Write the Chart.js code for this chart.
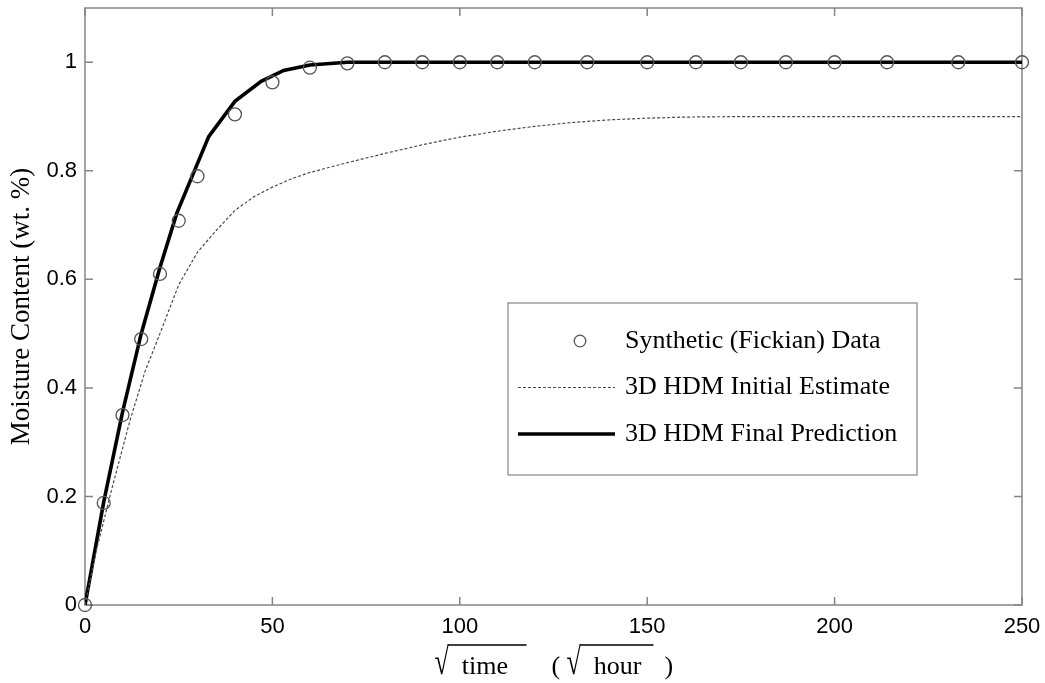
<!DOCTYPE html>
<html>
<head>
<meta charset="utf-8">
<script src="https://cdn.jsdelivr.net/npm/chart.js@4.4.1/dist/chart.umd.min.js"></script>
<style>
  html, body { margin: 0; padding: 0; background: #fff; }
  canvas { display: block; }
</style>
</head>
<body>
<canvas id="moistureChart" width="1045" height="683"></canvas>
<script>
// synthetic (Fickian) uptake points, x is sqrt(time)
const dataX = [0, 5, 10, 15, 20, 25, 30, 40, 50, 60, 70, 80, 90, 100, 110, 120, 134, 150, 163, 175, 187, 200, 214, 233, 250];
const dataY = [0, 0.188, 0.35, 0.49, 0.61, 0.708, 0.79, 0.904, 0.963, 0.99, 0.998, 1, 1, 1, 1, 1, 1, 1, 1, 1, 1, 1, 1, 1, 1];

// HDM initial estimate
const initX = [0, 3, 7, 12, 16, 20, 25, 30, 35, 40, 45, 50, 55, 60, 70, 80, 90, 100, 110, 120, 130, 140, 150, 160, 175, 200, 250];
const initY = [0, 0.1, 0.21, 0.34, 0.43, 0.5, 0.59, 0.65, 0.69, 0.727, 0.752, 0.77, 0.785, 0.797, 0.815, 0.832, 0.848, 0.862, 0.873, 0.882, 0.889, 0.894, 0.897, 0.899, 0.9, 0.9, 0.9];

// HDM final prediction
const finalX = [0, 5, 10, 15, 20, 24.5, 33, 40, 47, 53, 60, 70, 80, 250];
const finalY = [0, 0.19, 0.355, 0.5, 0.622, 0.722, 0.863, 0.928, 0.965, 0.985, 0.995, 1, 1, 1];

const xTicks = [0, 50, 100, 150, 200, 250];
const yTicks = [0, 0.2, 0.4, 0.6, 0.8, 1];
const seriesNames = ['Synthetic (Fickian) Data', '3D HDM Initial Estimate', '3D HDM Final Prediction'];
const yTitle = 'Moisture Content (wt. %)';

const toPoints = (xs, ys) => xs.map((v, i) => ({ x: v, y: ys[i] }));

const AXIS_GREY = '#858585';
const SERIF = '"Liberation Serif", "Times New Roman", serif';

// box around the axes with inward ticks on all four sides
const frame = {
    id: 'frame',
    beforeDatasetsDraw(chart) {
        const { ctx, chartArea: a, scales: { x, y } } = chart;
        const tl = 8;
        ctx.save();
        ctx.strokeStyle = AXIS_GREY;
        ctx.lineWidth = 1.5;
        ctx.strokeRect(a.left, a.top, a.right - a.left, a.bottom - a.top);
        ctx.beginPath();
        xTicks.forEach(v => {
            const px = x.getPixelForValue(v);
            ctx.moveTo(px, a.bottom); ctx.lineTo(px, a.bottom - tl);
            ctx.moveTo(px, a.top); ctx.lineTo(px, a.top + tl);
        });
        yTicks.forEach(v => {
            const py = y.getPixelForValue(v);
            ctx.moveTo(a.left, py); ctx.lineTo(a.left + tl, py);
            ctx.moveTo(a.right, py); ctx.lineTo(a.right - tl, py);
        });
        ctx.stroke();
        ctx.restore();
    }
};

// radical sign stretched up to meet the bar drawn over its argument
function drawRoot(ctx, x, base, word, barEnd) {
    ctx.save();
    ctx.translate(x, base);
    ctx.scale(1, 1.45);
    ctx.fillText('\u221A', 0, 0);
    ctx.restore();
    const rw = ctx.measureText('\u221A').width;
    ctx.fillText(word, x + rw + 13, base);
    ctx.beginPath();
    ctx.moveTo(x + rw - 1, base - 29);
    ctx.lineTo(x + barEnd, base - 29);
    ctx.stroke();
}

// axis titles
const titles = {
    id: 'titles',
    afterDraw(chart) {
        const { ctx, chartArea: a } = chart;
        ctx.save();
        ctx.fillStyle = '#000';
        ctx.font = '27px ' + SERIF;

        // y title, rotated
        ctx.translate(22, (a.top + a.bottom) / 2);
        ctx.rotate(-Math.PI / 2);
        ctx.textAlign = 'center';
        ctx.textBaseline = 'middle';
        ctx.fillText(yTitle, 0, 0);
        ctx.setTransform(1, 0, 0, 1, 0, 0);

        // x title: sqrt(time) (sqrt(hour))
        ctx.font = '26px ' + SERIF;
        ctx.textAlign = 'left';
        ctx.textBaseline = 'alphabetic';
        ctx.strokeStyle = '#000';
        ctx.lineWidth = 1.4;
        const x0 = (a.left + a.right) / 2 - 119;
        const base = 674;
        drawRoot(ctx, x0, base, 'time', 92);
        ctx.fillText('(', x0 + 117, base);
        drawRoot(ctx, x0 + 132, base, 'hour', 87);
        ctx.fillText(')', x0 + 230, base);
        ctx.restore();
    }
};

// boxed legend inside the plot
const boxLegend = {
    id: 'boxLegend',
    afterDatasetsDraw(chart) {
        const { ctx } = chart;
        const left = 508, top = 303, w = 409, h = 172;
        ctx.save();
        ctx.fillStyle = '#fff';
        ctx.fillRect(left, top, w, h);
        ctx.strokeStyle = AXIS_GREY;
        ctx.lineWidth = 1.2;
        ctx.strokeRect(left, top, w, h);

        ctx.font = '26px ' + SERIF;
        ctx.textBaseline = 'middle';
        ctx.fillStyle = '#000';
        chart.data.datasets.forEach((ds, i) => {
            const ry = top + 38 + i * 46.5;
            ctx.save();
            if (ds.showLine) {
                ctx.strokeStyle = ds.borderColor;
                ctx.lineWidth = ds.borderWidth;
                ctx.setLineDash(ds.borderDash || []);
                ctx.beginPath();
                ctx.moveTo(left + 10, ry);
                ctx.lineTo(left + 107, ry);
                ctx.stroke();
            } else {
                ctx.strokeStyle = ds.pointBorderColor;
                ctx.lineWidth = ds.pointBorderWidth;
                ctx.beginPath();
                ctx.arc(left + 72, ry, 5.8, 0, Math.PI * 2);
                ctx.stroke();
            }
            ctx.restore();
            ctx.fillText(ds.label, left + 117, ry);
        });
        ctx.restore();
    }
};

new Chart(document.getElementById('moistureChart'), {
    type: 'scatter',
    data: {
        datasets: [
            {
                label: seriesNames[0],
                data: toPoints(dataX, dataY),
                showLine: false,
                pointStyle: 'circle',
                pointRadius: 6.5,
                pointBorderWidth: 1.3,
                pointBorderColor: '#555',
                pointBackgroundColor: 'rgba(0,0,0,0)',
                clip: false
            },
            {
                label: seriesNames[1],
                data: toPoints(initX, initY),
                showLine: true,
                borderColor: '#4a4a4a',
                borderWidth: 1.2,
                borderDash: [3, 2],
                pointRadius: 0,
                tension: 0
            },
            {
                label: seriesNames[2],
                data: toPoints(finalX, finalY),
                showLine: true,
                borderColor: '#000',
                borderWidth: 3.6,
                pointRadius: 0,
                tension: 0
            }
        ]
    },
    options: {
        responsive: false,
        animation: false,
        layout: { padding: { left: 0, right: 23, top: 8, bottom: 0 } },
        plugins: {
            legend: { display: false },
            tooltip: { enabled: false }
        },
        scales: {
            x: {
                type: 'linear',
                min: 0,
                max: 250,
                afterFit: s => { s.height = 78; s.paddingLeft = 0; s.paddingRight = 0; },
                afterBuildTicks: s => { s.ticks = xTicks.map(v => ({ value: v })); },
                grid: { display: false, drawTicks: false },
                border: { display: false },
                ticks: {
                    padding: 9,
                    color: '#000',
                    font: { family: '"Liberation Sans", Arial, sans-serif', size: 22 },
                    maxRotation: 0
                }
            },
            y: {
                type: 'linear',
                min: 0,
                max: 1.1,
                afterFit: s => { s.width = 85; s.paddingTop = 0; s.paddingBottom = 0; },
                afterBuildTicks: s => { s.ticks = yTicks.map(v => ({ value: v })); },
                grid: { display: false, drawTicks: false },
                border: { display: false },
                ticks: {
                    padding: 8,
                    color: '#000',
                    font: { family: '"Liberation Sans", Arial, sans-serif', size: 22 },
                    callback: v => String(v)
                }
            }
        }
    },
    plugins: [frame, boxLegend, titles]
});
</script>
</body>
</html>
